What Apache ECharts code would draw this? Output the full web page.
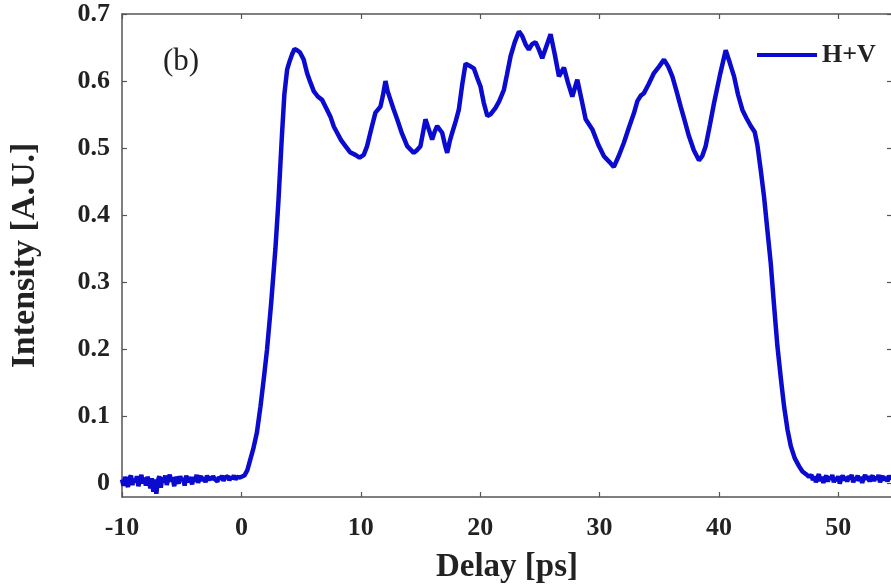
<!DOCTYPE html>
<html>
<head>
<meta charset="utf-8">
<script src="https://cdn.jsdelivr.net/npm/echarts@6/dist/echarts.min.js"></script>
<style>
    html, body { margin: 0; padding: 0; background: #fff; }
    #main { width: 891px; height: 586px; }
</style>
</head>
<body>
<div id="main"></div>
<script>
const log = console.log.bind(console)

// baseline before the pulse
const leftDelay = [
    -10, -9.875, -9.75, -9.625, -9.5, -9.375, -9.25, -9.125,
    -9, -8.875, -8.75, -8.625, -8.5, -8.375, -8.25, -8.125,
    -8, -7.875, -7.75, -7.625, -7.5, -7.375, -7.25, -7.125,
    -7, -6.875, -6.75, -6.625, -6.5, -6.375, -6.25, -6.125,
    -6, -5.875, -5.75, -5.625, -5.5, -5.375, -5.25, -5.125,
    -5, -4.875, -4.75, -4.625, -4.5, -4.375, -4.25, -4.125,
    -4, -3.875, -3.75, -3.625, -3.5, -3.375, -3.25, -3.125,
    -3, -2.875, -2.75, -2.625, -2.5, -2.375, -2.25, -2.125,
    -2, -1.875, -1.75, -1.625, -1.5, -1.375, -1.25, -1.125,
    -1, -0.875, -0.75, -0.625, -0.5, -0.375, -0.25, -0.125,
]
const leftIntensity = [
    0.006, -0.003, 0.010, 0.001, -0.005, 0.008, 0.012, -0.002,
    0.007, 0.002, 0.011, -0.004, 0.005, 0.013, 0.000, 0.009,
    -0.003, 0.010, 0.004, -0.007, 0.008, -0.012, 0.006, -0.015,
    0.004, 0.011, -0.006, 0.009, 0.002, 0.012, -0.002, 0.008,
    0.013, 0.003, 0.009, -0.004, 0.010, 0.005, 0.000, 0.011,
    0.004, 0.008, -0.003, 0.012, 0.002, 0.009, 0.006, -0.001,
    0.010, 0.003, 0.013, 0.001, 0.008, 0.011, 0.004, 0.009,
    0.002, 0.012, 0.005, 0.010, 0.006, 0.011, 0.007, 0.009,
    0.003, 0.010, 0.006, 0.012, 0.004, 0.009, 0.007, 0.011,
    0.005, 0.010, 0.007, 0.012, 0.006, 0.010, 0.008, 0.009,
]

// the pulse itself
const pulseDelay = [
    0, 0.25, 0.5, 0.75, 1.0, 1.3, 1.6, 1.9, 2.15, 2.5,
    2.85, 3.1, 3.4, 3.6, 3.83, 4.05, 4.25, 4.45, 4.67, 4.9,
    5.22, 5.5, 5.78, 6.06, 6.4, 6.76, 7.1, 7.46, 7.75, 8.02,
    8.35, 8.72, 9.1, 9.55, 9.9, 10.25, 10.53, 10.9, 11.23, 11.65,
    11.85, 12.07, 12.25, 12.49, 12.75, 13.05, 13.45, 13.89, 14.44, 14.7,
    15.0, 15.2, 15.42, 15.7, 15.98, 16.2, 16.4, 16.82, 17.05, 17.24,
    17.45, 17.66, 17.95, 18.21, 18.5, 18.78, 19.1, 19.47, 19.75, 20.03,
    20.3, 20.6, 20.9, 21.29, 21.6, 21.99, 22.25, 22.55, 22.9, 23.25,
    23.5, 23.8, 24.08, 24.35, 24.64, 24.9, 25.2, 25.55, 25.9, 26.25,
    26.6, 27.02, 27.35, 27.72, 28.14, 28.5, 28.84, 29.4, 29.9, 30.37,
    30.8, 31.2, 31.6, 32.04, 32.45, 32.88, 33.17, 33.44, 33.72, 34.1,
    34.56, 35.0, 35.4, 35.75, 36.1, 36.45, 36.8, 37.15, 37.49, 37.9,
    38.33, 38.6, 38.89, 39.25, 39.59, 40.1, 40.57, 40.9, 41.27, 41.6,
    41.97, 42.3, 42.67, 43.0, 43.22, 43.5, 43.78, 44.05, 44.34, 44.6,
    44.9, 45.2, 45.46, 45.75, 46.02, 46.35, 46.71, 47.0, 47.3, 47.55,
]
const pulseIntensity = [
    0.008, 0.012, 0.020, 0.036, 0.052, 0.076, 0.115, 0.160, 0.200, 0.270,
    0.350, 0.420, 0.520, 0.580, 0.617, 0.630, 0.640, 0.648, 0.646, 0.643,
    0.632, 0.612, 0.598, 0.585, 0.577, 0.572, 0.560, 0.547, 0.532, 0.523,
    0.512, 0.503, 0.494, 0.490, 0.486, 0.490, 0.503, 0.530, 0.553, 0.562,
    0.578, 0.600, 0.585, 0.572, 0.558, 0.543, 0.522, 0.503, 0.493, 0.497,
    0.503, 0.522, 0.543, 0.528, 0.513, 0.525, 0.533, 0.523, 0.505, 0.493,
    0.510, 0.523, 0.540, 0.557, 0.595, 0.626, 0.623, 0.619, 0.605, 0.592,
    0.568, 0.548, 0.551, 0.560, 0.570, 0.587, 0.610, 0.637, 0.658, 0.674,
    0.668, 0.655, 0.647, 0.655, 0.658, 0.648, 0.634, 0.652, 0.670, 0.640,
    0.607, 0.620, 0.598, 0.577, 0.602, 0.572, 0.543, 0.528, 0.505, 0.488,
    0.480, 0.472, 0.488, 0.508, 0.530, 0.552, 0.570, 0.578, 0.582, 0.595,
    0.612, 0.622, 0.632, 0.622, 0.607, 0.585, 0.562, 0.540, 0.518, 0.497,
    0.482, 0.488, 0.503, 0.535, 0.567, 0.610, 0.646, 0.628, 0.607, 0.580,
    0.557, 0.545, 0.533, 0.524, 0.505, 0.468, 0.428, 0.380, 0.329, 0.270,
    0.205, 0.155, 0.115, 0.080, 0.056, 0.038, 0.026, 0.018, 0.014, 0.010,
]

// baseline after the pulse
const rightDelay = [
    47.75, 47.875, 48, 48.125, 48.25, 48.375, 48.5, 48.625,
    48.75, 48.875, 49, 49.125, 49.25, 49.375, 49.5, 49.625,
    49.75, 49.875, 50, 50.125, 50.25, 50.375, 50.5, 50.625,
    50.75, 50.875, 51, 51.125, 51.25, 51.375, 51.5, 51.625,
    51.75, 51.875, 52, 52.125, 52.25, 52.375, 52.5, 52.625,
    52.75, 52.875, 53, 53.125, 53.25, 53.375, 53.5, 53.625,
    53.75, 53.875, 54, 54.125, 54.25, 54.375, 54.5,
]
const rightIntensity = [
    0.013, 0.005, 0.011, 0.002, 0.009, 0.014, 0.004, 0.010,
    0.001, 0.008, 0.012, 0.003, 0.010, 0.006, 0.013, 0.002,
    0.009, 0.004, 0.011, 0.000, 0.008, 0.012, 0.005, 0.010,
    0.003, 0.011, 0.007, 0.013, 0.002, 0.009, 0.005, 0.012,
    0.004, 0.010, 0.001, 0.008, 0.013, 0.006, 0.011, 0.003,
    0.009, 0.012, 0.004, 0.010, 0.006, 0.013, 0.002, 0.008,
    0.011, 0.005, 0.010, 0.003, 0.012, 0.007, 0.009,
]

const xTicks = [-10, 0, 10, 20, 30, 40, 50]
const yTicks = [0, 0.1, 0.2, 0.3, 0.4, 0.5, 0.6, 0.7]

const seriesName = 'H+V'
const panelLabel = '(b)'

const font = 'Liberation Serif'
const axisColor = '#555'
const textColor = '#222'
const lineColor = '#0b0bd0'

const buildData = () => {
    let delay = leftDelay.concat(pulseDelay, rightDelay)
    let intensity = leftIntensity.concat(pulseIntensity, rightIntensity)
    let data = []
    for (let i = 0; i < delay.length; i++) {
        data.push([delay[i], intensity[i]])
    }
    return data
}

const xAxisBase = (show) => {
    return {
        type: 'value',
        min: -10,
        max: 54.5,
        axisLine: {show: true, onZero: false, lineStyle: {color: axisColor, width: 1.5}},
        axisTick: {show: true, inside: true, length: 5, customValues: xTicks, lineStyle: {color: axisColor, width: 1.2}},
        splitLine: {show: false},
        axisLabel: {
            show: show,
            customValues: xTicks,
            margin: 18,
            color: textColor,
            fontFamily: font,
            fontWeight: 'bold',
            fontSize: 26,
        },
    }
}

const yAxisBase = (show) => {
    return {
        type: 'value',
        min: -0.02,
        max: 0.7,
        axisLine: {show: true, onZero: false, lineStyle: {color: axisColor, width: 1.5}},
        axisTick: {show: true, inside: true, length: 5, customValues: yTicks, lineStyle: {color: axisColor, width: 1.2}},
        splitLine: {show: false},
        axisLabel: {
            show: show,
            customValues: yTicks,
            margin: 12,
            color: textColor,
            fontFamily: font,
            fontWeight: 'bold',
            fontSize: 26,
        },
    }
}

const drawChart = () => {
    let element = document.querySelector('#main')
    let myChart = echarts.init(element)

    let bottomX = xAxisBase(true)
    bottomX.position = 'bottom'
    bottomX.name = 'Delay [ps]'
    bottomX.nameLocation = 'middle'
    bottomX.nameGap = 54
    bottomX.nameTextStyle = {color: textColor, fontFamily: font, fontWeight: 'bold', fontSize: 33}

    let topX = xAxisBase(false)
    topX.position = 'top'

    let leftY = yAxisBase(true)
    leftY.position = 'left'
    leftY.name = 'Intensity [A.U.]'
    leftY.nameLocation = 'middle'
    leftY.nameGap = 80
    leftY.nameTextStyle = {color: textColor, fontFamily: font, fontWeight: 'bold', fontSize: 34}

    let rightY = yAxisBase(false)
    rightY.position = 'right'

    let option = {
        animation: false,
        backgroundColor: '#fff',
        grid: {
            left: 122,
            right: -1,
            top: 14,
            bottom: 89,
            outerBoundsMode: 'none',
        },
        legend: {
            data: [{name: seriesName, icon: 'rect'}],
            left: 757,
            top: 42,
            padding: 0,
            itemWidth: 60,
            itemHeight: 4,
            itemGap: 6,
            textStyle: {color: textColor, fontFamily: font, fontWeight: 'bold', fontSize: 26},
        },
        graphic: [
            {
                type: 'text',
                left: 163,
                top: 46,
                style: {
                    text: panelLabel,
                    fill: textColor,
                    font: '31px "Liberation Serif"',
                },
            },
        ],
        xAxis: [bottomX, topX],
        yAxis: [leftY, rightY],
        series: [
            {
                name: seriesName,
                type: 'line',
                xAxisIndex: 0,
                yAxisIndex: 0,
                data: buildData(),
                symbol: 'none',
                smooth: false,
                lineStyle: {color: lineColor, width: 4.5},
                itemStyle: {color: lineColor},
            },
        ],
    }
    myChart.setOption(option)
}

const __main = () => {
    drawChart()
}

__main()
</script>
</body>
</html>
